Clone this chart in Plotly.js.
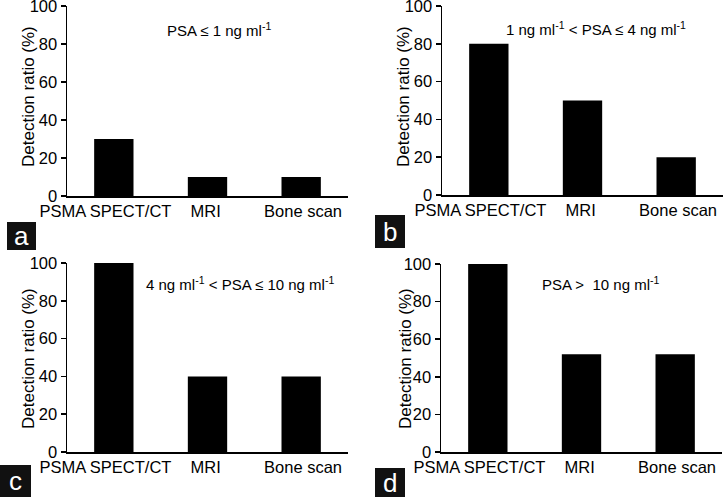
<!DOCTYPE html>
<html>
<head>
<meta charset="utf-8">
<script src="https://cdn.plot.ly/plotly-3.0.1.min.js"></script>
<style>html,body{margin:0;padding:0;background:#fff}#chart{width:724px;height:497px}</style>
</head>
<body>
<div id="chart"></div>
<script>
const categories = ["PSMA SPECT/CT", "MRI", "Bone scan"];
const valuesA = [30, 10, 10];
const valuesB = [80, 50, 20];
const valuesC = [100, 40, 40];
const valuesD = [100, 52, 52];
const panelTitles = [
  "PSA ≤ 1 ng ml<sup>-1</sup>",
  "1 ng ml<sup>-1</sup> &lt; PSA ≤ 4 ng ml<sup>-1</sup>",
  "4 ng ml<sup>-1</sup> &lt; PSA ≤ 10 ng ml<sup>-1</sup>",
  "PSA &gt;  10 ng ml<sup>-1</sup>"
];
const panelLetters = ["a", "b", "c", "d"];
const yTitle = "Detection ratio (%)";

const W = 724, H = 497;
const FONT = "Liberation Sans, Arial, Helvetica, sans-serif";
const px = x => x / W;
const py = y => 1 - y / H;

// panel plot areas in pixels: [left, right, top, bottom]
const areas = [
  [67, 348, 6, 196],
  [442, 723, 6, 195],
  [67, 348, 263, 452],
  [441, 722, 264, 452]
];
const series = [valuesA, valuesB, valuesC, valuesD];

const data = [];
const layout = {
  width: W, height: H,
  margin: {l: 0, r: 0, t: 0, b: 0},
  paper_bgcolor: "#fff", plot_bgcolor: "#fff",
  showlegend: false,
  font: {family: FONT, color: "#000", size: 16},
  annotations: [], shapes: []
};

// label boxes [x0,x1,y0,y1]
const boxes = [[7, 36, 222, 250], [375, 405, 215, 248], [0, 31, 465, 497], [375, 405, 468, 497]];
// annotation centers
const titlePos = [[219, 30], [596, 28], [240, 283], [600, 283]];
// y-title centers
const yTitlePos = [[28, 97], [403, 97], [28, 359], [405, 359]];
// label offsets (category units) for tick labels
const labelShift = [-0.09, -0.02, 0.02];

series.forEach((vals, i) => {
  const n = i === 0 ? "" : String(i + 1);
  const a = areas[i];
  data.push({
    type: "bar", x: [0, 1, 2], y: vals,
    text: categories, hoverinfo: "text+y", textposition: "none",
    xaxis: "x" + n, yaxis: "y" + n,
    width: 0.42,
    marker: {color: "#000", line: {width: 0}}
  });
  layout["xaxis" + n] = {
    domain: [px(a[0]), px(a[1])],
    anchor: "y" + n,
    type: "linear",
    range: [-0.5, 2.5],
    tickvals: categories.map((c, k) => k + labelShift[k]),
    ticktext: categories,
    showline: true, linecolor: "#000", linewidth: 1.5,
    showgrid: false, zeroline: false,
    ticks: "", ticklen: 0,
    tickfont: {family: FONT, size: 16.5, color: "#000"},
    ticklabeloverflow: "allow",
    fixedrange: true
  };
  layout["yaxis" + n] = {
    domain: [py(a[3]), py(a[2])],
    anchor: "x" + n,
    range: [0, 100],
    tickvals: [0, 20, 40, 60, 80, 100],
    showline: true, linecolor: "#000", linewidth: 1.5,
    showgrid: false, zeroline: false,
    ticks: "outside", ticklen: 5, tickwidth: 1.5, tickcolor: "#000",
    tickfont: {family: FONT, size: 16.5, color: "#000"},
    ticklabeloverflow: "allow",
    fixedrange: true
  };
  layout.annotations.push({
    xref: "paper", yref: "paper",
    x: px(yTitlePos[i][0]), y: py(yTitlePos[i][1]),
    xanchor: "center", yanchor: "middle", textangle: -90,
    text: yTitle, showarrow: false,
    font: {family: FONT, size: 17, color: "#000"}
  });
  layout.annotations.push({
    xref: "paper", yref: "paper",
    x: px(titlePos[i][0]), y: py(titlePos[i][1]),
    xanchor: "center", yanchor: "middle",
    text: panelTitles[i], showarrow: false,
    font: {family: FONT, size: 15, color: "#000"}
  });
  const b = boxes[i];
  layout.shapes.push({
    type: "rect", xref: "paper", yref: "paper",
    x0: px(b[0]), x1: px(b[1]), y0: py(b[3]), y1: py(b[2]),
    fillcolor: "#111", line: {width: 0}
  });
  layout.annotations.push({
    xref: "paper", yref: "paper",
    x: px((b[0] + b[1]) / 2), y: py((b[2] + b[3]) / 2),
    xanchor: "center", yanchor: "middle",
    text: panelLetters[i], showarrow: false,
    font: {family: FONT, size: 26, color: "#fff"}
  });
});

Plotly.newPlot("chart", data, layout, {displayModeBar: false, staticPlot: true});
</script>
</body>
</html>
